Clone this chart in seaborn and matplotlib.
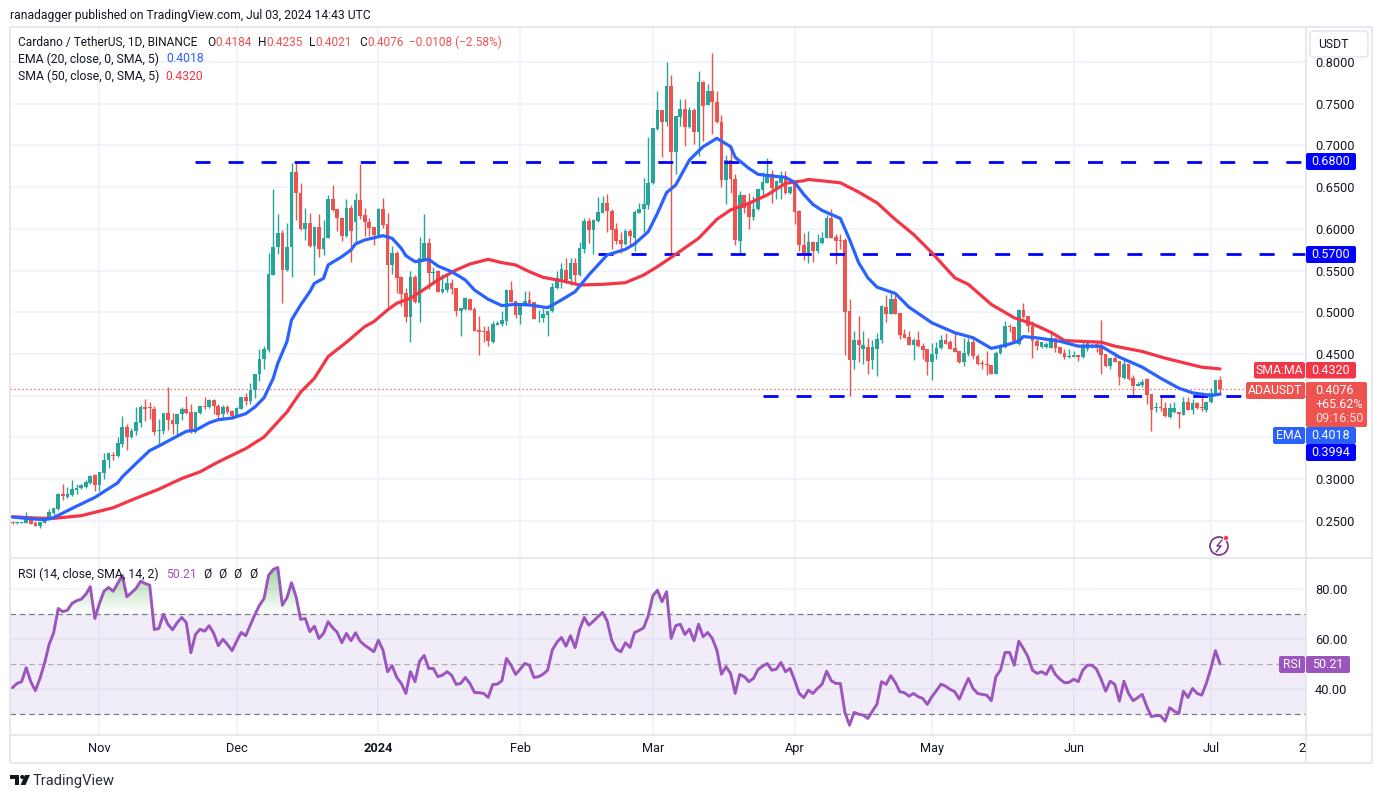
import matplotlib
matplotlib.use("Agg")
import matplotlib.dates as mdates
import matplotlib.pyplot as plt
from matplotlib.patches import Circle, FancyBboxPatch, PathPatch, Polygon
from matplotlib.path import Path
import numpy as np
import pandas as pd
import seaborn as sns

# Daily candles as (open, high, low, close)
oct_2023 = [
    (.2486, .2498, .2458, .2478), (.2475, .2490, .2459, .2479), (.2475, .2490, .2470, .2482),
    (.2475, .2610, .2467, .2522), (.2530, .2538, .2455, .2459), (.2470, .2502, .2435, .2439),
    (.2435, .2483, .2411, .2483), (.2475, .2538, .2467, .2522), (.2510, .2642, .2506, .2602),
    (.2590, .2650, .2570, .2650), (.2638, .2829, .2626, .2817), (.2817, .2944, .2749, .2797),
    (.2789, .2908, .2769, .2817), (.2809, .2984, .2801, .2877), (.2865, .2936, .2817, .2896),
    (.2888, .2936, .2880, .2924), (.2908, .2988, .2888, .2960), (.2948, .3048, .2944, .3040),
    (.3044, .3056, .2857, .2924),
]
nov_2023 = [
    (.2924, .3087, .2857, .3079), (.3068, .3306, .2996, .3231), (.3227, .3306, .3127, .3306),
    (.3290, .3318, .3223, .3274), (.3274, .3505, .3266, .3426), (.3418, .3756, .3382, .3625),
    (.3625, .3660, .3342, .3509), (.3509, .3613, .3497, .3577), (.3573, .3868, .3533, .3684),
    (.3676, .3891, .3625, .3868), (.3864, .3963, .3700, .3844), (.3852, .3927, .3716, .3848),
    (.3844, .3871, .3533, .3565), (.3581, .3724, .3414, .3593), (.3581, .3792, .3545, .3792),
    (.3792, .4102, .3593, .3704), (.3712, .3792, .3537, .3665), (.3665, .3780, .3533, .3780),
    (.3776, .3868, .3704, .3844), (.3844, .3995, .3784, .3796), (.3804, .3899, .3557, .3565),
    (.3565, .3804, .3557, .3804), (.3796, .3875, .3776, .3875), (.3875, .3983, .3844, .3860),
    (.3860, .3963, .3856, .3951), (.3951, .3963, .3784, .3871), (.3875, .3903, .3724, .3772),
    (.3776, .3891, .3732, .3868), (.3868, .3883, .3784, .3808), (.3820, .3824, .3724, .3756),
]
dec_2023 = [
    (.3756, .3864, .3752, .3856), (.3844, .3983, .3836, .3983), (.3983, .4035, .3883, .3939),
    (.3939, .4154, .3903, .4070), (.4062, .4262, .3975, .4262), (.4254, .4560, .4170, .4441),
    (.4433, .4600, .4321, .4560), (.4547, .5715, .4523, .5455), (.5447, .6475, .5447, .5787),
    (.5783, .6175, .5695, .5947), (.5947, .5987, .5107, .5507), (.5507, .6075, .5499, .5787),
    (.5787, .6795, .5423, .6683), (.6683, .6811, .6103, .6431), (.6435, .6547, .5987, .5995),
    (.5995, .6255, .5863, .6075), (.6075, .6187, .5783, .5791), (.5795, .6027, .5443, .6019),
    (.6019, .6175, .5663, .5759), (.5755, .6103, .5683, .5895), (.5891, .6403, .5887, .6355),
    (.6355, .6523, .6219, .6227), (.6235, .6235, .5975, .6131), (.6135, .6143, .5855, .5915),
    (.5915, .6355, .5907, .6247), (.6247, .6287, .5603, .5971), (.6083, .6435, .5835, .6343),
    (.6343, .6775, .6115, .6155), (.6163, .6255, .5915, .6083), (.6087, .6135, .5915, .6007),
    (.6019, .6027, .5803, .5931),
]
jan_2024 = [
    (.5923, .6247, .5919, .6235), (.6235, .6375, .6015, .6043), (.6055, .6187, .5055, .5567),
    (.5563, .5795, .5455, .5707), (.5715, .5735, .5235, .5407), (.5423, .5435, .5075, .5215),
    (.5227, .5295, .4883, .4943), (.4943, .5495, .4643, .5419), (.5419, .5443, .5115, .5119),
    (.5111, .5903, .4883, .5655), (.5635, .6175, .5627, .5827), (.5827, .5895, .5275, .5467),
    (.5467, .5539, .5335, .5487), (.5491, .5503, .5239, .5243), (.5243, .5455, .5227, .5275),
    (.5263, .5475, .5243, .5355), (.5355, .5395, .5223, .5275), (.5287, .5295, .4955, .5015),
    (.5015, .5055, .4715, .5047), (.5035, .5179, .5031, .5167), (.5155, .5163, .5023, .5027),
    (.5035, .5063, .4771, .4775), (.4783, .4955, .4487, .4759), (.4771, .4835, .4647, .4767),
    (.4771, .4835, .4595, .4655), (.4647, .4895, .4627, .4855), (.4847, .4895, .4843, .4867),
    (.4855, .5015, .4835, .4903), (.4895, .5283, .4843, .5263), (.5263, .5375, .5123, .5127),
    (.5139, .5139, .4935, .4967),
]
feb_2024 = [
    (.4967, .5087, .4855, .5087), (.5075, .5251, .5075, .5139), (.5142, .5250, .5090, .5110),
    (.5122, .5122, .4918, .4922), (.4938, .5030, .4882, .4946), (.4930, .5050, .4882, .4978),
    (.4970, .5018, .4718, .5018), (.5015, .5355, .5000, .5307), (.5295, .5495, .5283, .5411),
    (.5403, .5595, .5295, .5515), (.5507, .5655, .5355, .5387), (.5403, .5655, .5323, .5595),
    (.5595, .5655, .5355, .5443), (.5443, .5843, .5435, .5767), (.5755, .6135, .5715, .6091),
    (.6091, .6135, .5827, .5987), (.5987, .6115, .5695, .6103), (.6091, .6387, .6083, .6199),
    (.6195, .6395, .6187, .6307), (.6307, .6415, .5963, .6215), (.6219, .6235, .5755, .5983),
    (.5995, .6075, .5815, .5855), (.5863, .5963, .5715, .5815), (.5815, .6003, .5807, .5971),
    (.5971, .5995, .5795, .5915), (.5895, .6227, .5735, .6203), (.6195, .6307, .6187, .6243),
    (.6235, .6615, .5963, .6295), (.6287, .7103, .6235, .6547),
]
mar_2024 = [
    (.6547, .7207, .6535, .7207), (.7195, .7651, .7187, .7423), (.7423, .7423, .6863, .7283),
    (.7275, .7999, .7235, .7711), (.7711, .7839, .5703, .6923), (.6923, .7347, .6655, .7347),
    (.7343, .7555, .7227, .7435), (.7435, .7555, .6995, .7223), (.7223, .7463, .7203, .7423),
    (.7423, .7447, .7015, .7163), (.7163, .7891, .6867, .7759), (.7759, .7775, .7055, .7475),
    (.7487, .7735, .7483, .7651), (.7651, .8107, .7135, .7515), (.7515, .7647, .7267, .7275),
    (.7275, .7363, .6503, .6587), (.6587, .6883, .6295, .6823), (.6823, .6987, .6435, .6603),
    (.6603, .6663, .5803, .5863), (.5851, .6455, .5703, .6403), (.6403, .6403, .6195, .6255),
    (.6315, .6427, .5995, .6143), (.6143, .6395, .6107, .6235), (.6235, .6483, .6227, .6475),
    (.6463, .6683, .6395, .6567), (.6555, .6843, .6547, .6663), (.6655, .6707, .6315, .6495),
    (.6475, .6575, .6355, .6575), (.6555, .6695, .6363, .6635), (.6635, .6695, .6415, .6427),
    (.6427, .6515, .6423, .6507),
]
apr_2024 = [
    (.6575, .6575, .6055, .6203), (.6212, .6224, .5732, .5800), (.5808, .5952, .5624, .5680),
    (.5680, .5968, .5584, .5840), (.5840, .5852, .5600, .5732), (.5728, .5932, .5712, .5840),
    (.5824, .5960, .5816, .5892), (.5888, .6160, .5884, .6132), (.6132, .6240, .5888, .5892),
    (.5904, .5932, .5572, .5848), (.5860, .5940, .5752, .5856), (.5860, .5892, .4492, .5008),
    (.5020, .5164, .3992, .4432), (.4432, .4780, .4324, .4672), (.4672, .4952, .4400, .4604),
    (.4564, .4780, .4384, .4612), (.4580, .4692, .4264, .4420), (.4432, .4672, .4324, .4580),
    (.4564, .4752, .4232, .4684), (.4672, .5092, .4632, .5072), (.5068, .5212, .4880, .4984),
    (.4984, .5232, .4980, .5164), (.5164, .5212, .4976, .4980), (.4992, .4992, .4684, .4732),
    (.4744, .4800, .4688, .4692), (.4704, .4780, .4604, .4612), (.4612, .4692, .4432, .4672),
    (.4672, .4780, .4584, .4592), (.4592, .4632, .4440, .4552), (.4560, .4560, .4252, .4400),
]
may_2024 = [
    (.4400, .4632, .4184, .4504), (.4500, .4640, .4440, .4576), (.4568, .4732, .4560, .4672),
    (.4672, .4752, .4620, .4624), (.4640, .4664, .4560, .4564), (.4576, .4752, .4520, .4528),
    (.4540, .4540, .4392, .4400), (.4400, .4692, .4360, .4512), (.4504, .4692, .4480, .4640),
    (.4640, .4692, .4440, .4472), (.4480, .4504, .4372, .4376), (.4380, .4432, .4324, .4376),
    (.4372, .4532, .4252, .4368), (.4364, .4364, .4256, .4264), (.4264, .4532, .4256, .4512),
    (.4512, .4620, .4504, .4592), (.4580, .4900, .4572, .4832), (.4832, .4864, .4760, .4824),
    (.4820, .4832, .4652, .4660), (.4620, .5040, .4612, .5032), (.5032, .5112, .4932, .4940),
    (.4952, .4952, .4760, .4832), (.4840, .4900, .4448, .4652), (.4660, .4680, .4552, .4600),
    (.4580, .4648, .4572, .4640), (.4580, .4640, .4568, .4620), (.4572, .4760, .4568, .4692),
    (.4692, .4692, .4520, .4568), (.4580, .4580, .4500, .4508), (.4508, .4560, .4440, .4460),
    (.4464, .4560, .4448, .4468),
]
jun_2024 = [
    (.4468, .4540, .4460, .4492), (.4492, .4492, .4420, .4460), (.4460, .4640, .4448, .4580),
    (.4560, .4660, .4540, .4640), (.4580, .4620, .4568, .4600), (.4620, .4660, .4520, .4572),
    (.4600, .4908, .4260, .4492), (.4500, .4500, .4340, .4352), (.4352, .4452, .4320, .4452),
    (.4452, .4520, .4400, .4408), (.4416, .4416, .4132, .4220), (.4208, .4452, .4200, .4380),
    (.4380, .4380, .4192, .4200), (.4212, .4248, .3999, .4120), (.4120, .4160, .4112, .4140),
    (.4128, .4200, .4100, .4168), (.4200, .4208, .3900, .4008), (.4020, .4020, .3580, .3828),
    (.3852, .3920, .3808, .3860), (.3860, .3980, .3820, .3852), (.3852, .3920, .3744, .3752),
    (.3740, .3908, .3728, .3852), (.3800, .3920, .3792, .3852), (.3808, .3808, .3612, .3780),
    (.3772, .3988, .3768, .3928), (.3928, .3980, .3828, .3832), (.3832, .3960, .3780, .3908),
    (.3912, .3920, .3840, .3848), (.3860, .4040, .3820, .3848), (.3832, .3928, .3800, .3928),
]
jul_2024 = [(.3920, .4088, .3912, .4032), (.4020, .4192, .4016, .4192), (.4184, .4235, .4021, .4076)]

# EMA 20: bar number since the first candle, value
ema_bars = [0, 3, 7, 9, 13, 18, 23, 24, 27, 30, 32, 35, 38, 40, 43, 45, 48, 51, 53, 55, 57, 58, 60, 61, 63, 65,
            66, 68, 69, 72, 74, 75, 77, 81, 83, 85, 86, 88, 91, 93, 96, 99, 101, 104, 107, 110, 113, 117, 120,
            123, 126, 130, 134, 136, 139, 141, 143, 145, 148, 151, 154, 157, 158, 161, 163, 166, 169, 171, 173,
            175, 177, 181, 183, 185, 187, 189, 193, 196, 201, 206, 210, 214, 217, 220, 221, 224, 229, 233, 238,
            242, 247, 251, 255, 258, 262, 264]
ema_values = [.2544, .2528, .2512, .2536, .2647, .2779, .2954, .3026, .3185, .3341, .3396, .3484, .3572, .3584,
              .3675, .3711, .3731, .3783, .3863, .3974, .4207, .4387, .4647, .4907, .5087, .5246, .5346, .5406,
              .5566, .5666, .5746, .5818, .5866, .5918, .5886, .5766, .5678, .5606, .5634, .5554, .5486, .5386,
              .5266, .5155, .5079, .5095, .5087, .5054, .5146, .5246, .5446, .5686, .5754, .5818, .5966, .6186,
              .6434, .6525, .6825, .6985, .7085, .6985, .6857, .6725, .6653, .6633, .6617, .6557, .6412, .6292,
              .6220, .6124, .5873, .5593, .5413, .5301, .5225, .5061, .4873, .4754, .4694, .4566, .4602, .4654,
              .4708, .4692, .4652, .4593, .4593, .4461, .4341, .4209, .4089, .4033, .4001, .4018]

# SMA 50
sma_bars = [0, 5, 9, 15, 22, 26, 32, 37, 41, 45, 51, 55, 60, 63, 66, 69, 73, 77, 79, 82, 84, 87, 90, 93, 97, 100,
            104, 107, 110, 113, 116, 120, 124, 129, 134, 138, 141, 145, 150, 154, 157, 161, 165, 169, 173, 174,
            181, 185, 189, 193, 197, 201, 204, 206, 209, 214, 219, 223, 227, 230, 238, 241, 247, 252, 257, 260,
            264]
sma_values = [.2548, .2532, .2528, .2560, .2655, .2747, .2878, .3006, .3086, .3205, .3365, .3504, .3803, .4042,
              .4207, .4467, .4639, .4827, .4887, .5027, .5107, .5167, .5274, .5386, .5506, .5578, .5634, .5594,
              .5566, .5486, .5418, .5378, .5326, .5334, .5354, .5446, .5546, .5694, .5886, .6114, .6226, .6306,
              .6406, .6545, .6577, .6592, .6552, .6440, .6312, .6112, .5932, .5713, .5533, .5413, .5333, .5093,
              .4933, .4860, .4760, .4660, .4640, .4593, .4529, .4449, .4381, .4341, .4320]

# RSI 14, one value per candle
rsi_part1 = [40.7, 42.4, 43.1, 48.7, 43.1, 39.5, 44.4, 50.4, 58, 62.7, 72.4, 71.1, 71.7, 74.4, 75.5, 76.1, 78,
             81.1, 68.4, 74.4, 79.3, 80.8, 79.3, 82.4, 85.7, 77.1, 78.7, 80.4, 83.3, 82.4, 81.7, 64, 64.4, 70.1,
             66, 63.9, 66.7, 68.8, 66.7, 54.7, 62, 64.1, 63.3, 65.5, 62.4, 57.5, 60.1, 58, 55.5, 59.3, 62.8, 61.5,
             65.7, 70, 73.7, 76.4, 85.7, 88, 88.8, 73.7, 76.7, 82.7, 77.1, 68, 68.4, 63.1, 65.3, 60.4, 62.4, 67.1,
             64.7, 62.8, 58.7, 62.4, 59.5, 62.7, 59.3, 57.7, 56.4, 55.1, 59.7, 55.7, 47.1, 49.5, 44.8, 42.4, 38.4,
             47.1, 43.1, 51.3, 53.6, 48.4, 48.4, 45.1, 45.7, 47.1, 45.7, 42, 42.4]
rsi_part2 = [44.8, 42.4, 38.8, 38.7, 38.4, 36.8, 42, 42.1, 43.5, 52.4, 49.7, 46, 48.1, 50.4, 49.7, 44.8, 45.1,
             46.1, 47.7, 55.7, 58.8, 60.8, 57.3, 61.5, 56.7, 64.1, 68.8, 65.7, 67.3, 69.1, 70.8, 67.5, 59.7, 56.1,
             55.1, 58.7, 56.8, 62.8, 63.6, 64.7, 69.5, 77.5, 79.7, 75.1, 79.1, 60.4, 65.5, 66.1, 62, 64.1, 59.5,
             66.1, 61.1, 62.8, 60.4, 55.7, 46.1, 49.1, 46.4, 38.4, 46, 45.1, 43.1, 44.4, 48, 49.3, 50.4, 47.7,
             48.1, 50.8, 47.1, 48.4, 43.7, 38.4, 36.7, 39.7, 38.4, 40.4, 42.1, 47.3, 43.5, 42.4, 42.4, 30.7, 25.7,
             30.8, 30.1, 29.7, 28.4, 31.3, 34.1, 43.1, 42, 45.5, 42.8]
rsi_part3 = [39.1, 38.7, 37.3, 38.4, 37.1, 36.4, 34, 37.1, 39.5, 42.1, 41.3, 40, 39.1, 36.1, 40.4, 44.4, 40.4,
             38.4, 38, 37.7, 35.5, 45.1, 47.7, 54.8, 54.8, 49.7, 59.3, 56.4, 53.1, 47.7, 46.4, 47.1, 46, 49.5, 46,
             44.1, 42.7, 42.8, 44.1, 43.1, 47.7, 49.7, 49.7, 48.1, 44.1, 39.3, 43.3, 42, 35.3, 43.3, 38.4, 35.5,
             36.7, 38, 33.1, 29.1, 29.5, 29.5, 27.3, 32.7, 31.3, 30.4, 39.3, 36.8, 40.4, 38.4, 37.7, 42.4, 48.4,
             55.5, 50.21]

price_ticks = [.25, .30, .35, .40, .45, .50, .55, .60, .65, .70, .75, .80]
hidden_price_ticks = [.35, .40]
rsi_ticks = [40, 60, 80]
month_dates = ["2023-11-01", "2023-12-01", "2024-01-01", "2024-02-01", "2024-03-01", "2024-04-01", "2024-05-01",
               "2024-06-01", "2024-07-01"]
month_labels = ["Nov", "Dec", "2024", "Feb", "Mar", "Apr", "May", "Jun", "Jul"]
# level, date the dashed line starts
levels = [(.68, "2023-11-22"), (.57, "2024-02-18"), (.3994, "2024-03-25")]
last_close = .4076

UP = "#26a69a"
DOWN = "#ef5350"
EMA_BLUE = "#2962ff"
SMA_RED = "#f23645"
RSI_PURPLE = "#9c54be"
GRID = "#f0f3fa"
EDGE = "#e0e3eb"
INK = "#131722"

sns.set_theme(style="white")
plt.rcParams["font.family"] = ["Roboto", "DejaVu Sans"]

W, H = 1382, 798
fig = plt.figure(figsize=(W / 100, H / 100), dpi=100, facecolor="white")


def panel(left, top, right, bottom):
    return fig.add_axes([left / W, 1 - bottom / H, (right - left) / W, (bottom - top) / H])


ax = panel(10, 27, 1306, 558)
ax_rsi = panel(10, 558, 1306, 735)

candles = pd.DataFrame(
    oct_2023 + nov_2023 + dec_2023 + jan_2024 + feb_2024 + mar_2024 + apr_2024 + may_2024 + jun_2024 + jul_2024,
    columns=["open", "high", "low", "close"],
)
candles["date"] = pd.date_range(end="2024-07-03", periods=len(candles))
first_day = candles["date"].iloc[0]
rising = candles["close"] >= candles["open"]

# Wicks and bodies
ax.vlines(candles["date"], candles["low"], candles["high"], colors=np.where(rising, UP, DOWN), lw=1.0, zorder=3)
ax.bar(candles["date"], (candles["close"] - candles["open"]).abs().clip(lower=.0010),
       bottom=candles[["open", "close"]].min(axis=1), width=0.8, color=np.where(rising, UP, DOWN),
       lw=0, zorder=3)

for level, start in levels:
    ax.plot([pd.Timestamp(start), pd.Timestamp("2024-12-31")], [level, level], color="#0000ff", lw=2,
            linestyle=(0, (5.4, 6.5)), dash_capstyle="butt", zorder=4)
ax.axhline(last_close, color=DOWN, lw=0.9, linestyle=(0, (1, 2.2)), zorder=2)

sns.lineplot(x=first_day + pd.to_timedelta(sma_bars, unit="D"), y=sma_values, color=SMA_RED, lw=2.3,
             ax=ax, zorder=5, estimator=None, solid_joinstyle="round")
sns.lineplot(x=first_day + pd.to_timedelta(ema_bars, unit="D"), y=ema_values, color=EMA_BLUE, lw=2.3,
             ax=ax, zorder=6, estimator=None, solid_joinstyle="round")

rsi = np.array(rsi_part1 + rsi_part2 + rsi_part3)
rsi_dates = pd.date_range(end="2024-07-03", periods=len(rsi))
rsi_nums = mdates.date2num(rsi_dates)

ax_rsi.axhspan(30, 70, color="#7e57c2", alpha=0.1, lw=0, zorder=1)
ax_rsi.axhline(70, color="#787b86", lw=0.9, linestyle=(0, (4.5, 3)), zorder=2)
ax_rsi.axhline(30, color="#787b86", lw=0.9, linestyle=(0, (4.5, 3)), zorder=2)
ax_rsi.axhline(50, color="#787b86", lw=0.9, alpha=0.55, linestyle=(0, (4.5, 3)), zorder=2)

# Green gradient where RSI is above 70
above = ax_rsi.fill_between(rsi_nums, 70, rsi, where=rsi > 70, interpolate=True, color="none", lw=0)
gradient = np.zeros((256, 1, 4))
gradient[:, 0, :3] = matplotlib.colors.to_rgb("#4caf50")
gradient[:, 0, 3] = np.linspace(0, 0.55, 256)
image = ax_rsi.imshow(gradient, origin="lower", aspect="auto", zorder=2,
                      extent=[rsi_nums[0], rsi_nums[-1], 70, 89])
image.set_clip_path(PathPatch(Path.make_compound_path(*above.get_paths()), transform=ax_rsi.transData))

sns.lineplot(x=rsi_dates, y=rsi, color=RSI_PURPLE, lw=2.1, ax=ax_rsi, zorder=5, estimator=None,
             solid_joinstyle="round")

# Scales so that the price and time axes land where the reference has them
day_lo = mdates.date2num(first_day) - 0.547
day_hi = mdates.date2num(first_day) + 282.8
ax.set_xlim(day_lo, day_hi)
ax_rsi.set_xlim(day_lo, day_hi)
ax.set_ylim(.20528, .84197)
ax_rsi.set_ylim(21.76, 92.6)

month_ticks = pd.to_datetime(month_dates)
for a in (ax, ax_rsi):
    a.set_xlabel("")
    a.set_ylabel("")
    a.set_xticks(month_ticks)
    a.yaxis.tick_right()
    a.grid(True, color=GRID, lw=1.3, zorder=0)
    a.set_axisbelow(True)
    a.set_facecolor("none")
    for spine in a.spines.values():
        spine.set_visible(False)

ax.set_xticklabels([])
ax.tick_params(axis="both", length=0)
ax.set_yticks(price_ticks)
ax.set_yticklabels(["" if t in hidden_price_ticks else f"{t:.4f}" for t in price_ticks], color=INK, fontsize=9.2)
ax.tick_params(axis="y", pad=6.5)

ax_rsi.set_yticks(rsi_ticks)
ax_rsi.set_yticklabels([f"{t:.2f}" for t in rsi_ticks], color=INK, fontsize=9.2)
ax_rsi.set_xticklabels(month_labels, color=INK, fontsize=9.2)
ax_rsi.get_xticklabels()[2].set_fontweight("bold")
ax_rsi.tick_params(axis="both", length=0)
ax_rsi.tick_params(axis="y", pad=6.5)
ax_rsi.tick_params(axis="x", pad=5)

# Overlay in reference pixels for the frame, header and value tags
over = fig.add_axes([0, 0, 1, 1], zorder=10)
over.set_xlim(0, W)
over.set_ylim(H, 0)
over.axis("off")


def label(x, y, text, color=INK, size=9, ha="left", **kw):
    over.text(x, y, text, color=color, fontsize=size, ha=ha, va="center", **kw)


def tag(x0, y0, x1, y1, color):
    over.add_patch(FancyBboxPatch((x0, y0), x1 - x0, y1 - y0, boxstyle="round,pad=0,rounding_size=2",
                                  facecolor=color, edgecolor="none", zorder=3))


for x0, y0, x1, y1 in [(10, 27, 1372, 27), (10, 27, 10, 763), (1372, 27, 1372, 763), (10, 763, 1372, 763),
                       (10, 558, 1372, 558), (10, 735, 1372, 735), (1306, 27, 1306, 763)]:
    over.plot([x0, x1], [y0, y1], color=EDGE, lw=1.1, solid_capstyle="butt", zorder=2)

label(10, 15, "ranadagger published on TradingView.com, Jul 03, 2024 14:43 UTC", size=8.7)
label(18, 42, "Cardano / TetherUS, 1D, BINANCE", size=8.6)
for x, head, value in [(207, "O", "0.4184"), (258, "H", "0.4235"), (309, "L", "0.4021"), (359, "C", "0.4076")]:
    label(x, 42, head, size=8.6)
    label(x + 8 if head != "L" else x + 6, 42, value, color=DOWN, size=8.6)
label(409, 42, "−0.0108 (−2.58%)", color=DOWN, size=8.6)
label(18, 59, "EMA (20, close, 0, SMA, 5)", size=8.8)
label(166, 59, "0.4018", color=EMA_BLUE, size=8.8)
label(18, 76, "SMA (50, close, 0, SMA, 5)", size=8.8)
label(165, 76, "0.4320", color=SMA_RED, size=8.8)
label(18, 574, "RSI (14, close, SMA, 14, 2)", size=8.8)
label(166, 574, "50.21", color=RSI_PURPLE, size=8.8)
for x in (207, 222, 237, 253):
    label(x, 574, "Ø", size=8.6, ha="center")

over.add_patch(FancyBboxPatch((1310, 31), 58, 26, boxstyle="round,pad=0,rounding_size=4", facecolor="white",
                              edgecolor=EDGE, lw=1, zorder=3))
label(1333, 44, "USDT", ha="center", size=8.8, zorder=4)

tag(1306, 153, 1356, 170, "#0000ff")
label(1331, 161.5, "0.6800", color="white", ha="center", size=9, zorder=4)
tag(1306, 246, 1356, 263, "#0000ff")
label(1331, 254.5, "0.5700", color="white", ha="center", size=9, zorder=4)
tag(1254, 362, 1305, 378.5, SMA_RED)
tag(1306, 362, 1356, 378.5, SMA_RED)
label(1279.5, 370, "SMA:MA", color="white", ha="center", size=8.8, zorder=4)
label(1331, 370, "0.4320", color="white", ha="center", size=9, zorder=4)
tag(1246, 382, 1305, 399, DOWN)
tag(1306, 382, 1367, 427, DOWN)
label(1275.5, 390.5, "ADAUSDT", color="white", ha="center", size=8.8, zorder=4)
label(1315, 391, "0.4076", color="white", size=9, zorder=4)
label(1315, 405, "+65.62%", color="white", size=9, zorder=4)
label(1315, 419, "09:16:50", color="#fde3e2", size=9, zorder=4)
tag(1273, 427, 1305, 444, EMA_BLUE)
tag(1306, 427, 1356, 444, EMA_BLUE)
label(1289, 435.5, "EMA", color="white", ha="center", size=8.8, zorder=4)
label(1331, 435.5, "0.4018", color="white", ha="center", size=9, zorder=4)
tag(1306, 444, 1356, 461, "#0000ff")
label(1331, 452.5, "0.3994", color="white", ha="center", size=9, zorder=4)
tag(1279, 656, 1305, 673, RSI_PURPLE)
tag(1306, 656, 1350, 673, RSI_PURPLE)
label(1292, 664.5, "RSI", color="white", ha="center", size=8.8, zorder=4)
label(1328, 664.5, "50.21", color="white", ha="center", size=9, zorder=4)
label(1302, 749, "2", ha="center", size=9.2)

# Snapshot badge
over.add_patch(Circle((1219, 546), 9, facecolor="white", edgecolor="#7b2d8e", lw=1.2, zorder=3))
over.plot([1216, 1221, 1217, 1222], [552, 546, 546, 540], color="#7b2d8e", lw=1, zorder=4)
over.add_patch(Circle((1226, 538), 2.6, facecolor=SMA_RED, edgecolor="white", lw=0.6, zorder=5))

# TradingView mark
over.add_patch(Polygon([(10, 775), (19.5, 775), (19.5, 785), (15, 785), (15, 779), (10, 779)], facecolor=INK,
                       edgecolor="none"))
over.add_patch(Circle((22.3, 777), 2.1, facecolor=INK, edgecolor="none"))
over.add_patch(Polygon([(25, 775), (30, 775), (25.5, 785), (20.5, 785)], facecolor=INK, edgecolor="none"))
label(33, 780.5, "TradingView", size=10.6, color="#2a2e39")

fig.savefig("out.png", dpi=100, facecolor="white")
